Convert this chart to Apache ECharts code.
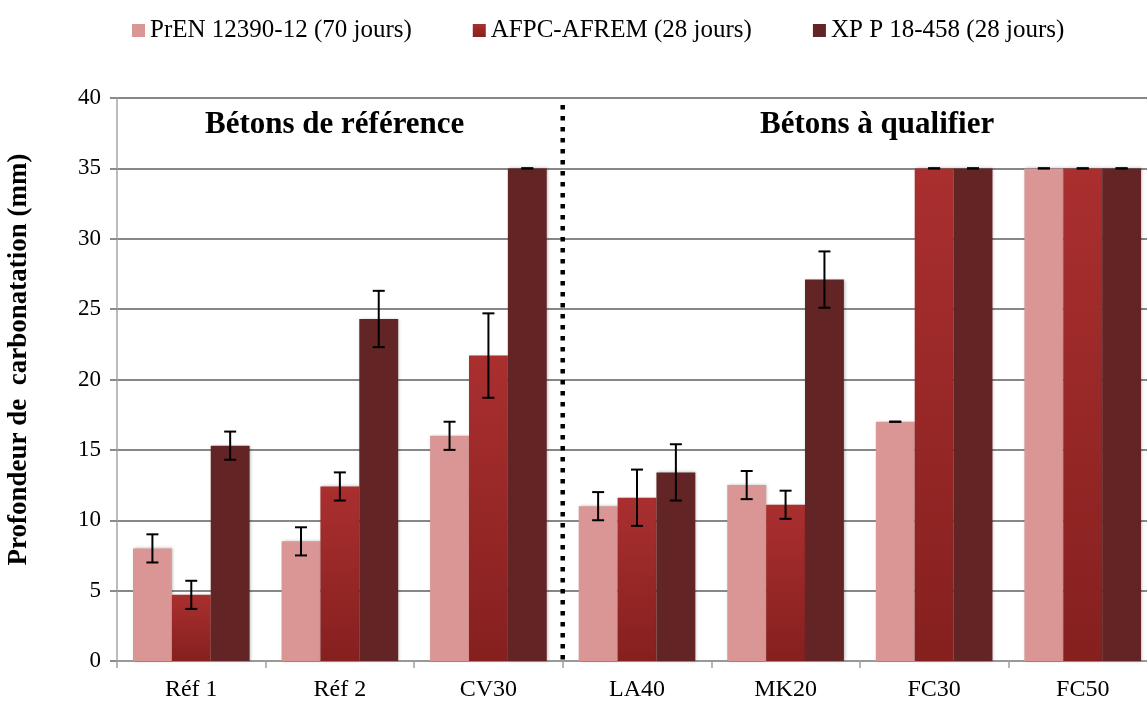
<!DOCTYPE html>
<html>
<head>
<meta charset="utf-8">
<script src="https://cdn.jsdelivr.net/npm/echarts@6/dist/echarts.min.js"></script>
<style>
  html, body { margin: 0; padding: 0; background: #ffffff; }
  #chart { width: 1147px; height: 703px; }
</style>
</head>
<body>
<div id="chart"></div>
<script>
// Concrete mixes tested
const categories = ['Réf 1', 'Réf 2', 'CV30', 'LA40', 'MK20', 'FC30', 'FC50'];

// Carbonation depth (mm) per test method
const seriesNames = ['PrEN 12390-12 (70 jours)', 'AFPC-AFREM (28 jours)', 'XP P 18-458 (28 jours)'];
const prEN = [8.0, 8.5, 16.0, 11.0, 12.5, 17.0, 35.0];
const afpc = [4.7, 12.4, 21.7, 11.6, 11.1, 35.0, 35.0];
const xpp  = [15.3, 24.3, 35.0, 13.4, 27.1, 35.0, 35.0];

// Half-width of the error bars (mm)
const prENErr = [1.0, 1.0, 1.0, 1.0, 1.0, 0, 0];
const afpcErr = [1.0, 1.0, 3.0, 2.0, 1.0, 0, 0];
const xppErr  = [1.0, 2.0, 0, 2.0, 2.0, 0, 0];

const yTicks = [0, 5, 10, 15, 20, 25, 30, 35, 40];
const groupTitles = ['Bétons de référence', 'Bétons à qualifier'];

const FONT = '"Liberation Serif", "DejaVu Serif", serif';
const CAT_GAP = 0.215;
const colors = [
  '#d99694',
  { type: 'linear', x: 0, y: 0, x2: 0, y2: 1,
    colorStops: [{ offset: 0, color: '#aa2f2f' }, { offset: 1, color: '#85201f' }] },
  '#632425'
];

const values = [prEN, afpc, xpp];
const errors = [prENErr, afpcErr, xppErr];

const barSeries = values.map((v, i) => ({
  name: seriesNames[i],
  type: 'bar',
  data: v,
  barGap: '0%',
  barCategoryGap: (CAT_GAP * 100) + '%',
  itemStyle: {
    color: colors[i],
    shadowColor: 'rgba(0,0,0,0.28)',
    shadowBlur: 3,
    shadowOffsetX: 1,
    shadowOffsetY: 0
  },
  z: 2
}));

const errSeries = values.map((v, i) => ({
  type: 'custom',
  name: seriesNames[i] + ' err',
  data: v.map((val, k) => [k, val, errors[i][k]]),
  z: 5,
  silent: true,
  renderItem: function (params, api) {
    const k = api.value(0);
    const val = api.value(1);
    const e = api.value(2);
    const band = api.size([1, 0])[0];
    const bw = band * (1 - CAT_GAP) / 3;
    const cx = api.coord([k, val])[0] + (i - 1) * bw;
    const yHi = api.coord([k, val + e])[1];
    const yLo = api.coord([k, val - e])[1];
    const cap = 6;
    const st = { stroke: '#000', lineWidth: 2 };
    return {
      type: 'group',
      children: [
        { type: 'line', shape: { x1: cx, y1: yHi, x2: cx, y2: yLo }, style: st },
        { type: 'line', shape: { x1: cx - cap, y1: yHi, x2: cx + cap, y2: yHi }, style: st },
        { type: 'line', shape: { x1: cx - cap, y1: yLo, x2: cx + cap, y2: yLo }, style: st }
      ]
    };
  }
}));

// Dotted separator between the reference group and the mixes to qualify
const separatorSeries = {
  type: 'custom',
  data: [[2, 39.5]],
  z: 6,
  silent: true,
  renderItem: function (params, api) {
    const band = api.size([1, 0])[0];
    const x = api.coord([2, 0])[0] + band / 2;
    const yTop = api.coord([2, api.value(1)])[1];
    const yBot = api.coord([2, 0])[1];
    return {
      type: 'line',
      shape: { x1: x, y1: yTop, x2: x, y2: yBot },
      style: { stroke: '#000', lineWidth: 4.5, lineDash: [4.5, 6.5] }
    };
  }
};

const chart = echarts.init(document.getElementById('chart'));
chart.setOption({
  animation: false,
  backgroundColor: '#ffffff',
  legend: {
    top: 13,
    left: 127,
    itemWidth: 13,
    itemHeight: 13,
    itemGap: 61,
    icon: 'rect',
    data: seriesNames,
    textStyle: { fontFamily: FONT, fontSize: 25, color: '#000' }
  },
  grid: {
    left: 117, top: 98, width: 1040, height: 563,
    containLabel: false,
    outerBoundsMode: 'none'
  },
  xAxis: {
    type: 'category',
    data: categories,
    axisLine: { lineStyle: { color: '#a0a0a0', width: 1.5 } },
    axisTick: { show: true, length: 7, lineStyle: { color: '#a0a0a0', width: 1.5 } },
    axisLabel: { fontFamily: FONT, fontSize: 24, color: '#000', margin: 17 }
  },
  yAxis: {
    type: 'value',
    min: yTicks[0],
    max: yTicks[yTicks.length - 1],
    interval: yTicks[1] - yTicks[0],
    name: 'Profondeur de  carbonatation (mm)',
    nameLocation: 'middle',
    nameGap: 84,
    nameTextStyle: {
      fontFamily: FONT, fontSize: 27, fontWeight: 'bold', color: '#000',
      padding: [0, 0, 0, 40]
    },
    axisLine: { show: true, lineStyle: { color: '#a6a6a6', width: 1.5 } },
    axisTick: { show: true, length: 7, lineStyle: { color: '#8a8a8a', width: 2 } },
    axisLabel: { fontFamily: FONT, fontSize: 23, color: '#000', margin: 16 },
    splitLine: { lineStyle: { color: '#878787', width: 2 } }
  },
  graphic: [
    { type: 'text', left: 205, top: 109,
      style: { text: groupTitles[0], font: 'bold 31px ' + FONT, fill: '#000' } },
    { type: 'text', left: 760, top: 109,
      style: { text: groupTitles[1], font: 'bold 31px ' + FONT, fill: '#000' } }
  ],
  series: [...barSeries, ...errSeries, separatorSeries]
});
</script>
</body>
</html>
